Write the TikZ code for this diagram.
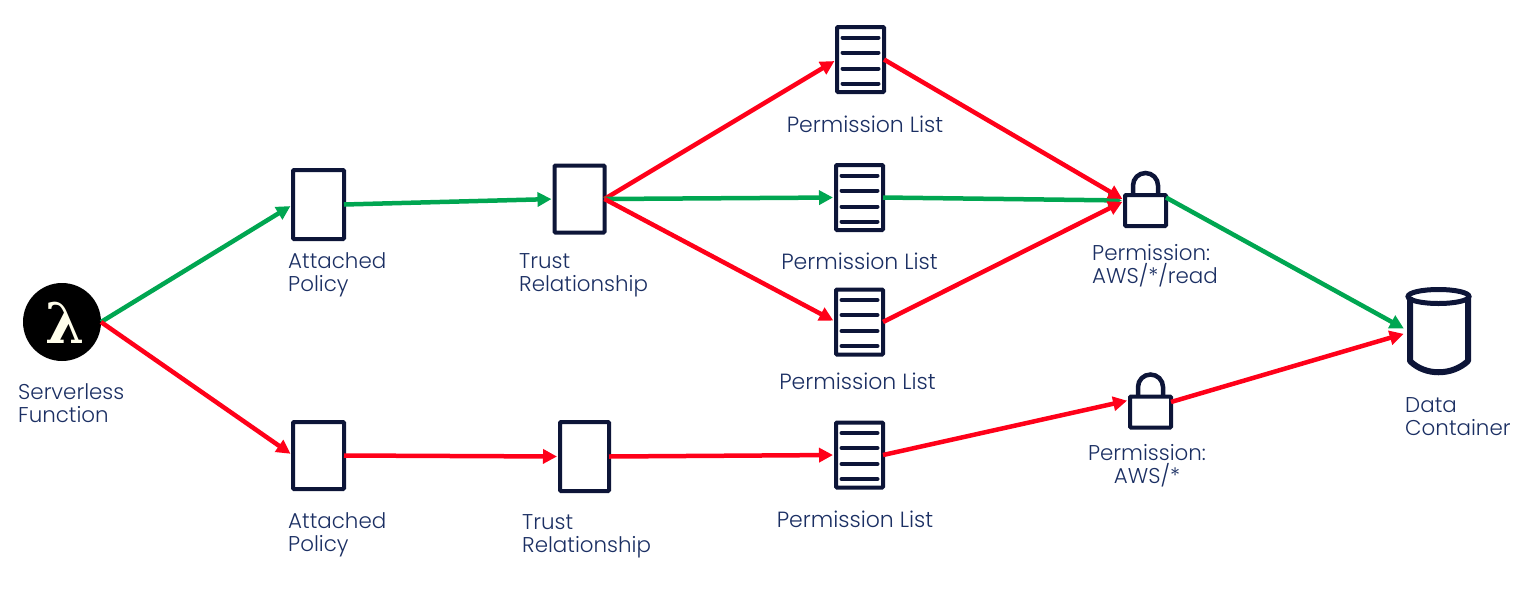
\documentclass[tikz,border=0pt]{standalone}
\usepackage{fontspec}
\setmainfont[UprightFont=* Light]{Poppins}
\newfontfamily\lamfont{DejaVu Serif}
\usetikzlibrary{arrows.meta}
\definecolor{ink}{HTML}{0D1538}
\definecolor{txt}{HTML}{1B2F63}
\definecolor{redl}{HTML}{FF0019}
\definecolor{grnl}{HTML}{00A651}
\tikzset{
  x=1pt,y=-1pt,
  icon/.style={draw=ink,line width=4pt,fill=white,rounded corners=1pt,inner sep=0pt,outer sep=0pt},
  card/.style={icon,minimum width=50pt,minimum height=68pt},
  sheet/.style={icon,minimum width=47pt,minimum height=65pt},
  lockbody/.style={icon,minimum width=41pt,minimum height=31pt},
  rule/.style={draw=ink,line width=4pt,line cap=round},
  label/.style={text=txt,font=\fontsize{21.4}{23}\selectfont,inner sep=0pt,align=left},
  clabel/.style={label,align=center},
  listlabel/.style={clabel,font=\fontsize{22}{23}\selectfont},
  good/.style={draw=grnl,line width=4.5pt,-{Triangle[length=14pt,width=14pt]},shorten >=3pt},
  bad/.style={draw=redl,line width=4.5pt,-{Triangle[length=14pt,width=14pt]},shorten >=3pt},
}
\newcommand{\listicon}[3]{%
  \node[sheet] (#1) at (#2,#3) {};
  \foreach \dy in {-22,-7,9,24} \draw[rule] (#2-18,#3+\dy) -- (#2+18,#3+\dy);
}
\newcommand{\lockicon}[3]{%
  \draw[draw=ink,line width=4.5pt] (#2-12.5,#3-15) -- (#2-12.5,#3-25) arc[start angle=180,end angle=360,radius=12.5] -- (#2+12.5,#3-15);
  \node[lockbody] (#1) at (#2,#3) {};
}
\begin{document}
\begin{tikzpicture}
\useasboundingbox (0,0) rectangle (1530,595);
% icons
\node[circle,fill=black,minimum size=78pt,inner sep=0pt,outer sep=0pt] (lam) at (62,322) {};
\node[text=white!92!yellow,inner sep=0pt] (lamglyph) at (65,323) {\lamfont\bfseries\fontsize{56}{56}\selectfont λ};
\node[card,minimum width=51pt,minimum height=69pt] (a1) at (318.5,204.5) {};
\node[card,minimum height=67pt] (t1) at (579.5,199) {};
\listicon{p1}{860.5}{59.5}
\listicon{p2}{859.5}{197.5}
\listicon{p3}{859.5}{322}
\lockicon{l1}{1145.5}{210.5}
\node[card,minimum width=51pt,minimum height=67pt] (a2) at (318.5,455.5) {};
\node[card,minimum width=49pt,minimum height=69pt] (t2) at (584.5,456.5) {};
\listicon{p4}{859.5}{455}
\lockicon{l2}{1150.5}{412}
% data container
\node[minimum width=64pt,minimum height=86pt,inner sep=0pt,outer sep=0pt] (db) at (1438.5,332) {};
\draw[draw=ink,line width=6pt,line join=round] (1410,297) -- (1410,361) .. controls (1425,376) and (1452,376) .. (1468,361) -- (1468,297);
\draw[draw=ink,line width=5pt] (1438.5,296.5) ellipse[x radius=30.5,y radius=7];
% labels
\node[label,anchor=west] (tlam) at (18,403) {Serverless\\Function};
\node[label,anchor=west] (ta1) at (288,275) {Attached\\Policy};
\node[label,anchor=west] (tt1) at (519,275.5) {Trust\\Relationship};
\node[listlabel] (tp1) at (865,124.5) {Permission List};
\node[listlabel] (tp2) at (859.5,261.5) {Permission List};
\node[listlabel] (tp3) at (857.5,381.5) {Permission List};
\node[listlabel] (tp4) at (855,519.5) {Permission List};
\node[label,anchor=west] (tl1) at (1092,265.5) {Permission:\\AWS/*/read};
\node[clabel] (tl2) at (1147,466) {Permission:\\AWS/*};
\node[label,anchor=west] (tdb) at (1405,416.5) {Data\\Container};
\node[label,anchor=west] (ta2) at (288,534.5) {Attached\\Policy};
\node[label,anchor=west] (tt2) at (522,536.5) {Trust\\Relationship};
% connectors
\draw[good] (lam.east) -- (a1.west);
\draw[bad] (lam.east) -- (a2.west);
\draw[good] (a1.east) -- (t1.west);
\draw[bad] (t1.east) -- (p1.west);
\draw[good] (t1.east) -- (p2.west);
\draw[bad] (t1.east) -- (p3.west);
\draw[good] (p2.east) -- ([yshift=10pt]l1.west);
\draw[bad] (p1.east) -- ([yshift=10pt]l1.west);
\draw[bad] (p3.east) -- ([yshift=10pt]l1.west);
\draw[good] ([yshift=13pt]l1.east) -- ([yshift=2pt]db.west);
\draw[bad] (a2.east) -- (t2.west);
\draw[bad] (t2.east) -- (p4.west);
\draw[bad] (p4.east) -- ([yshift=12pt]l2.west);
\draw[bad] ([yshift=10pt]l2.east) -- ([yshift=-1pt]db.west);
\end{tikzpicture}
\end{document}
